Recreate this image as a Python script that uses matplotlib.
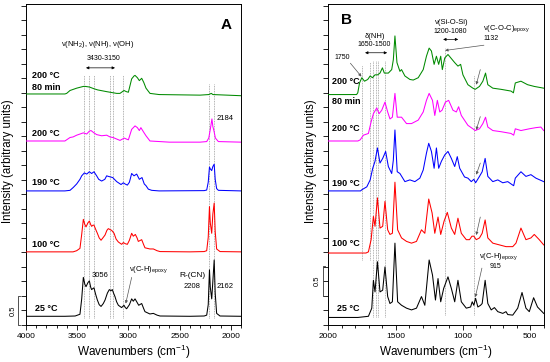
import matplotlib
matplotlib.use('Agg')
import matplotlib.pyplot as plt
from matplotlib.ticker import MultipleLocator
import numpy as np

plt.rcParams['font.family'] = ['Liberation Sans', 'DejaVu Sans']
plt.rcParams['mathtext.fontset'] = 'custom'
plt.rcParams['mathtext.rm'] = 'Liberation Sans'
plt.rcParams['mathtext.it'] = 'Liberation Sans:italic'
plt.rcParams['mathtext.bf'] = 'Liberation Sans:bold'

# FTIR traces: (wavenumber, intensity above own baseline)
# panel A, 4000-1900 cm-1
a_25 = [(4000, 0), (3620, 0), (3520, 0.005), (3473, 0.035), (3456, 0.3), (3440, 0.67), (3425, 0.55),
        (3414, 0.51), (3395, 0.58), (3381, 0.61), (3368, 0.5), (3359, 0.46), (3345, 0.48), (3336, 0.49),
        (3320, 0.38), (3303, 0.28), (3285, 0.2), (3267, 0.17), (3245, 0.22), (3228, 0.28), (3205, 0.4),
        (3186, 0.46), (3170, 0.44), (3157, 0.46), (3145, 0.4), (3131, 0.34), (3115, 0.25), (3098, 0.19),
        (3066, 0.15), (3043, 0.19), (3030, 0.15), (3017, 0.13), (2990, 0.2), (2968, 0.30), (2952, 0.26),
        (2935, 0.30), (2925, 0.27), (2899, 0.19), (2870, 0.22), (2850, 0.13), (2838, 0.08), (2790, 0.04),
        (2756, 0.05), (2720, 0.02), (2691, 0.005), (2400, 0), (2260, 0.005), (2235, 0.02), (2220, 0.2),
        (2208, 0.80), (2200, 0.5), (2186, 0.30), (2175, 0.6), (2162, 0.97), (2152, 0.4), (2138, 0.05),
        (2105, 0.005), (1900, 0)]
a_100 = [(4000, 0), (3540, 0), (3505, 0.02), (3473, 0.06), (3456, 0.3), (3440, 0.56), (3425, 0.47),
         (3414, 0.43), (3395, 0.5), (3381, 0.53), (3368, 0.47), (3359, 0.44), (3345, 0.46), (3336, 0.46),
         (3320, 0.39), (3303, 0.32), (3285, 0.24), (3267, 0.20), (3245, 0.25), (3228, 0.29), (3210, 0.37),
         (3196, 0.40), (3175, 0.38), (3163, 0.37), (3140, 0.32), (3120, 0.22), (3098, 0.17), (3066, 0.13),
         (3049, 0.16), (3030, 0.14), (3010, 0.13), (2990, 0.2), (2968, 0.32), (2952, 0.27), (2932, 0.30),
         (2915, 0.24), (2903, 0.18), (2870, 0.21), (2850, 0.12), (2838, 0.07), (2790, 0.05), (2756, 0.05),
         (2720, 0.02), (2691, 0.005), (2400, 0), (2260, 0.005), (2235, 0.02), (2220, 0.25), (2208, 0.78),
         (2200, 0.5), (2186, 0.32), (2175, 0.65), (2162, 0.84), (2152, 0.35), (2138, 0.05), (2105, 0.005),
         (1900, 0)]
a_190 = [(4000, 0), (3620, 0), (3570, 0.01), (3538, 0.06), (3505, 0.12), (3473, 0.2), (3456, 0.26),
         (3430, 0.31), (3407, 0.29), (3381, 0.33), (3359, 0.30), (3336, 0.33), (3310, 0.26), (3290, 0.2),
         (3261, 0.17), (3230, 0.2), (3212, 0.26), (3195, 0.25), (3153, 0.23), (3114, 0.16), (3072, 0.11),
         (3049, 0.14), (3033, 0.12), (3010, 0.10), (2990, 0.15), (2968, 0.30), (2945, 0.26), (2919, 0.29),
         (2893, 0.20), (2867, 0.23), (2845, 0.12), (2828, 0.09), (2805, 0.03), (2772, 0.01), (2700, 0),
         (2260, 0.005), (2235, 0.015), (2220, 0.15), (2208, 0.41), (2200, 0.38), (2186, 0.35), (2175, 0.42),
         (2162, 0.46), (2152, 0.2), (2138, 0.04), (2121, 0.01), (1900, 0)]
a_200 = [(4000, 0), (3620, 0), (3570, 0.06), (3540, 0.07), (3505, 0.10), (3440, 0.14), (3407, 0.12),
         (3381, 0.17), (3365, 0.18), (3336, 0.14), (3310, 0.11), (3261, 0.09), (3212, 0.10), (3180, 0.07),
         (3150, 0.06), (3082, 0.01), (3040, 0.05), (3015, 0.03), (3000, 0.02), (2968, 0.20), (2935, 0.26),
         (2912, 0.23), (2893, 0.18), (2878, 0.23), (2850, 0.15), (2828, 0.09), (2789, 0.0), (2600, -0.02),
         (2300, -0.02), (2235, -0.01), (2215, 0.05), (2200, 0.2), (2184, 0.38), (2175, 0.25), (2165, 0.18),
         (2150, 0.05), (2121, -0.01), (1900, -0.02)]
a_200_80 = [(4000, 0), (3620, 0), (3603, 0.01), (3570, 0.06), (3505, 0.1), (3440, 0.13), (3420, 0.13),
            (3381, 0.12), (3336, 0.09), (3300, 0.07), (3212, 0.04), (3114, 0.01), (3082, 0.01), (3043, 0.06),
            (3020, 0.04), (3000, 0.03), (2968, 0.26), (2945, 0.31), (2935, 0.32), (2912, 0.28), (2893, 0.23),
            (2870, 0.27), (2850, 0.2), (2828, 0.1), (2789, 0.01), (2700, -0.01), (2300, -0.02), (2215, -0.01),
            (2190, 0.01), (2175, -0.01), (1900, -0.03)]

# panel B, 2000-400 cm-1
b_25 = [(2000, 0), (1780, 0), (1702, 0.02), (1677, 0.16), (1665, 0.64), (1653, 0.44), (1635, 0.96),
        (1616, 0.44), (1596, 0.47), (1579, 0.87), (1559, 0.36), (1542, 0.24), (1524, 0.27), (1505, 1.28),
        (1485, 0.27), (1456, 0.21), (1419, 0.16), (1382, 0.13), (1345, 0.16), (1308, 0.36), (1283, 0.21),
        (1251, 0.99), (1226, 0.73), (1204, 0.30), (1185, 0.67), (1165, 0.27), (1143, 0.50), (1111, 0.70),
        (1086, 0.50), (1061, 0.27), (1037, 0.64), (1012, 0.27), (975, 0.16), (943, 0.18), (931, 0.27),
        (919, 0.21), (906, 0.33), (889, 0.18), (869, 0.21), (857, 0.24), (835, 0.64), (815, 0.24),
        (790, 0.13), (766, 0.17), (741, 0.10), (704, 0.07), (680, 0.10), (667, 0.05), (630, 0.04),
        (593, 0.16), (561, 0.43), (532, 0.16), (507, 0.10), (475, 0.34), (446, 0.18), (400, 0.07)]
b_100 = [(2000, 0), (1720, 0), (1702, 0.02), (1682, 0.23), (1665, 0.63), (1653, 0.46), (1635, 0.95),
         (1616, 0.43), (1596, 0.46), (1579, 0.89), (1559, 0.40), (1542, 0.32), (1524, 0.34), (1505, 1.22),
         (1485, 0.40), (1456, 0.26), (1419, 0.20), (1382, 0.17), (1345, 0.20), (1308, 0.40), (1283, 0.34),
         (1254, 0.93), (1229, 0.69), (1209, 0.34), (1185, 0.62), (1165, 0.32), (1140, 0.55), (1116, 0.70),
         (1086, 0.43), (1061, 0.32), (1037, 0.60), (1012, 0.34), (975, 0.23), (951, 0.23), (933, 0.29),
         (919, 0.29), (901, 0.23), (877, 0.26), (857, 0.34), (835, 0.57), (815, 0.26), (778, 0.17),
         (729, 0.14), (680, 0.11), (630, 0.11), (606, 0.17), (569, 0.43), (532, 0.23), (495, 0.26),
         (470, 0.32), (433, 0.23), (400, 0.14)]
b_190 = [(2000, 0), (1760, 0), (1751, 0.02), (1714, 0.07), (1689, 0.19), (1670, 0.39), (1653, 0.51),
         (1635, 0.74), (1616, 0.48), (1596, 0.56), (1574, 0.68), (1554, 0.42), (1529, 0.30), (1517, 0.53),
         (1505, 1.05), (1488, 0.33), (1468, 0.30), (1431, 0.16), (1394, 0.19), (1357, 0.16), (1320, 0.22),
         (1295, 0.36), (1271, 0.65), (1254, 0.82), (1234, 0.68), (1214, 0.39), (1197, 0.74), (1180, 0.39),
         (1160, 0.51), (1135, 0.62), (1111, 0.68), (1086, 0.56), (1061, 0.42), (1042, 0.59), (1024, 0.39),
         (988, 0.24), (963, 0.22), (938, 0.16), (919, 0.20), (906, 0.14), (877, 0.25), (857, 0.33),
         (835, 0.56), (815, 0.25), (778, 0.16), (741, 0.19), (704, 0.14), (667, 0.16), (630, 0.10),
         (623, 0.09), (611, 0.22), (569, 0.33), (532, 0.25), (495, 0.28), (458, 0.22), (400, 0.16)]
b_200 = [(2000, 0), (1780, 0), (1763, 0.02), (1739, 0.10), (1702, 0.13), (1682, 0.33), (1665, 0.47),
         (1640, 0.57), (1623, 0.47), (1603, 0.53), (1579, 0.67), (1559, 0.50), (1542, 0.38), (1524, 0.41),
         (1505, 0.82), (1488, 0.41), (1456, 0.41), (1419, 0.30), (1382, 0.30), (1332, 0.36), (1295, 0.50),
         (1271, 0.70), (1251, 0.82), (1226, 0.70), (1209, 0.44), (1190, 0.70), (1172, 0.50), (1155, 0.53),
         (1130, 0.67), (1106, 0.70), (1074, 0.53), (1049, 0.50), (1032, 0.59), (1012, 0.44), (963, 0.27),
         (926, 0.21), (909, 0.18), (877, 0.21), (852, 0.30), (832, 0.41), (815, 0.24), (778, 0.18),
         (717, 0.16), (643, 0.13), (623, 0.10), (611, 0.21), (569, 0.18), (507, 0.21), (458, 0.23),
         (421, 0.24), (400, 0.18)]
b_200_80 = [(2000, 0), (1790, 0), (1781, 0.03), (1768, 0.20), (1751, 0.29), (1731, 0.23), (1707, 0.26),
            (1689, 0.32), (1672, 0.29), (1653, 0.34), (1633, 0.34), (1616, 0.37), (1598, 0.46), (1584, 0.37),
            (1554, 0.37), (1529, 0.43), (1517, 0.6), (1505, 1.01), (1490, 0.55), (1468, 0.40), (1456, 0.43),
            (1431, 0.32), (1394, 0.26), (1369, 0.25), (1332, 0.29), (1295, 0.43), (1271, 0.66), (1251, 0.80),
            (1234, 0.75), (1214, 0.52), (1197, 0.66), (1180, 0.52), (1165, 0.66), (1153, 0.43), (1135, 0.63),
            (1111, 0.69), (1079, 0.60), (1061, 0.55), (1037, 0.49), (1017, 0.52), (1000, 0.34), (963, 0.17),
            (926, 0.11), (909, 0.09), (877, 0.14), (852, 0.23), (832, 0.37), (815, 0.17), (778, 0.11),
            (717, 0.09), (643, 0.06), (625, 0.03), (611, 0.20), (569, 0.23), (520, 0.17), (470, 0.14),
            (400, 0.11)]

colors = ['black', 'red', 'blue', 'magenta', '#008a00']
offsets_a = [0.15, 1.26, 2.31, 3.17, 3.98]
offsets_b = [0.13, 1.24, 2.31, 3.17, 3.97]
marks_a = [3430, 3380, 3335, 3180, 3150, 3056, 2208, 2162]
marks_b = [1750, 1690, 1670, 1648, 1628, 1580, 1132, 915]

fig = plt.figure(figsize=(5.5, 3.62), dpi=100)
axA = fig.add_axes([26 / 550, 37 / 362, 215 / 550, 321 / 362])
axB = fig.add_axes([328.3 / 550, 37 / 362, 215.4 / 550, 321 / 362])

dot = dict(color='#999999', ls=(0, (1, 1)), lw=0.6, zorder=1)
arr2 = dict(arrowstyle='<|-|>', lw=0.5, color='black', mutation_scale=4, shrinkA=0, shrinkB=0)
ptr = dict(arrowstyle='-|>', lw=0.5, color='#555555', mutation_scale=4, shrinkA=0, shrinkB=0)
fs = 5.5
lab = dict(fontsize=6.5, fontweight='bold')


def scale_bar(ax, x, y0, y1, xt):
    tr = ax.get_yaxis_transform()
    ax.plot([x + 0.01, x, x, x + 0.01], [y0, y0, y1, y1], color='#333333', lw=0.6,
            clip_on=False, transform=tr)
    ax.text(xt, (y0 + y1) / 2, '0.5', fontsize=fs, rotation=90, ha='center', va='center',
            transform=tr)


# ---- panel A
for spec, off, c in zip([a_25, a_100, a_190, a_200, a_200_80], offsets_a, colors):
    wn, it = zip(*spec)
    axA.plot(wn, np.array(it) + off, color=c, lw=0.75, zorder=3)
for m in marks_a[:6]:
    axA.plot([m, m], [0.12, 4.31], **dot)
for m in marks_a[6:]:
    axA.plot([m, m], [0.12, 4.16], **dot)

axA.text(2047, 5.17, 'A', fontsize=11, fontweight='bold', ha='center', va='center')
axA.text(3297, 4.83, r'ν(NH$_2$), ν(NH), ν(OH)', fontsize=fs, ha='center', va='center')
axA.text(3238, 4.59, '3430-3150', fontsize=5, ha='center', va='center')
axA.annotate('', xy=(3131, 4.43), xytext=(3414, 4.43), arrowprops=arr2)
axA.text(2060, 3.55, '2184', fontsize=fs, ha='center', va='center')
axA.text(3277, 0.86, '3056', fontsize=fs, ha='center', va='center')
axA.text(2995, 0.95, r'ν(C-H)$_{\rm epoxy}$', fontsize=fs, ha='left', va='center')
axA.annotate('', xy=(3026, 0.37), xytext=(2968, 0.82), arrowprops=ptr)
axA.text(2374, 0.86, 'R-(CN)', fontsize=6, ha='center', va='center')
axA.text(2374, 0.66, '2208', fontsize=fs, ha='center', va='center')
axA.text(2056, 0.66, '2162', fontsize=fs, ha='center', va='center')

axA.text(3941, 4.29, '200 °C', ha='left', va='center', **lab)
axA.text(3941, 4.09, '80 min', ha='left', va='center', **lab)
axA.text(3941, 3.30, '200 °C', ha='left', va='center', **lab)
axA.text(3941, 2.45, '190 °C', ha='left', va='center', **lab)
axA.text(3941, 1.38, '100 °C', ha='left', va='center', **lab)
axA.text(3912, 0.28, '25 °C', ha='left', va='center', **lab)

axA.set_xlim(4000, 1900)
axA.set_xticks([4000, 3500, 3000, 2500, 2000])
scale_bar(axA, -0.036, 0.0, 0.5, -0.058)

# ---- panel B
for spec, off, c in zip([b_25, b_100, b_190, b_200, b_200_80], offsets_b, colors):
    wn, it = zip(*spec)
    axB.plot(wn, np.array(it) + off, color=c, lw=0.75, zorder=3)
axB.plot([1750, 1750], [1.12, 4.48], **dot)
axB.plot([1690, 1690], [1.12, 4.53], **dot)
for m in marks_b[2:6]:
    axB.plot([m, m], [0.14, 4.55], **dot)
axB.plot([1132, 1132], [0.17, 4.78], **dot)
axB.plot([915, 915], [0.17, 4.31], **dot)

axB.text(1868, 5.26, 'B', fontsize=11, fontweight='bold', ha='center', va='center')
axB.text(1656, 4.97, 'δ(NH)', fontsize=fs, ha='center', va='center')
axB.text(1660, 4.83, '1650-1500', fontsize=5, ha='center', va='center')
axB.annotate('', xy=(1563, 4.69), xytext=(1727, 4.69), arrowprops=arr2)
axB.text(1894, 4.60, '1750', fontsize=5, ha='center', va='center')
axB.annotate('', xy=(1754, 4.28), xytext=(1836, 4.51), arrowprops=ptr)
axB.text(1085, 5.21, 'ν(Si-O-Si)', fontsize=fs, ha='center', va='center')
axB.text(1095, 5.05, '1200-1080', fontsize=5, ha='center', va='center')
axB.annotate('', xy=(1035, 4.92), xytext=(1147, 4.92), arrowprops=arr2)
axB.text(849, 5.10, r'ν(C-O-C)$_{\rm epoxy}$', fontsize=fs, ha='left', va='center')
axB.text(790, 4.93, '1132', fontsize=5, ha='center', va='center')
axB.annotate('', xy=(1132, 4.73), xytext=(844, 4.82), arrowprops=ptr)
axB.text(879, 1.17, r'ν(C-H)$_{\rm epoxy}$', fontsize=fs, ha='left', va='center')
axB.text(756, 1.01, '915', fontsize=5, ha='center', va='center')
axB.annotate('', xy=(908, 0.48), xytext=(859, 0.98), arrowprops=ptr)
for y0, y1 in [(4.40, 4.14), (3.59, 3.36), (2.79, 2.59), (1.86, 1.55)]:
    axB.annotate('', xy=(901, y1), xytext=(871, y0), arrowprops=ptr)

axB.text(1972, 4.20, '200 °C', ha='left', va='center', **lab)
axB.text(1972, 3.85, '80 min', ha='left', va='center', **lab)
axB.text(1972, 3.39, '200 °C', ha='left', va='center', **lab)
axB.text(1972, 2.44, '190 °C', ha='left', va='center', **lab)
axB.text(1972, 1.41, '100 °C', ha='left', va='center', **lab)
axB.text(1935, 0.29, '25 °C', ha='left', va='center', **lab)

axB.set_xlim(2000, 400)
axB.set_xticks([2000, 1500, 1000, 500])
scale_bar(axB, -0.023, 0.5, 1.02, -0.053)

for ax, lx in ((axA, -0.055), (axB, -0.052)):
    ax.set_ylim(0, 5.53)
    ax.set_yticks(np.arange(0, 5.6, 0.25))
    ax.set_yticklabels([])
    ax.xaxis.set_minor_locator(MultipleLocator(100))
    ax.tick_params(which='both', direction='out', labelsize=6, pad=2, width=0.6)
    ax.tick_params(which='major', length=3.5)
    ax.tick_params(which='minor', length=2)
    for s in ax.spines.values():
        s.set_linewidth(0.7)
    ax.set_xlabel('Wavenumbers (cm$^{-1}$)', fontsize=8.5)
    ax.xaxis.set_label_coords(0.5, -0.055)
    ax.set_ylabel('Intensity (arbitrary units)', fontsize=8.3)
    ax.yaxis.set_label_coords(lx, 0.51)

fig.savefig('out.png', dpi=100)
